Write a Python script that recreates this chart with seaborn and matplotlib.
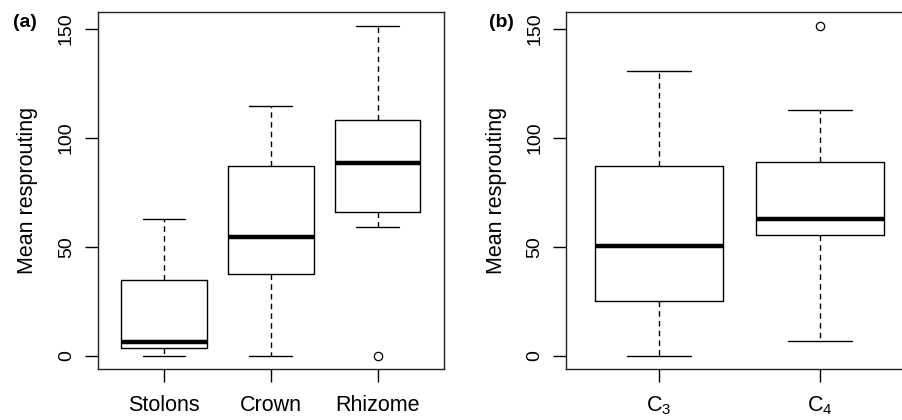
import matplotlib
matplotlib.use("Agg")
import matplotlib.pyplot as plt
import seaborn as sns

sns.set_style("ticks")
plt.rcParams['font.family'] = ['Liberation Sans', 'DejaVu Sans']
plt.rcParams['mathtext.default'] = 'regular'
plt.rcParams['text.color'] = 'black'
plt.rcParams['axes.labelcolor'] = 'black'
plt.rcParams['xtick.color'] = 'black'
plt.rcParams['ytick.color'] = 'black'

# Panel (a): resprouting organ
organ_labels = ["Stolons", "Crown", "Rhizome"]
organ_whislo = [0.0, 0.0, 59.2]
organ_q1 = [3.5, 37.5, 65.8]
organ_med = [6.5, 54.5, 88.5]
organ_q3 = [34.9, 87.1, 108.0]
organ_whishi = [62.7, 114.7, 151.5]
organ_fliers = [[], [], [0.0]]

# Panel (b): photosynthetic pathway
path_labels = [r"$C_3$", r"$C_4$"]
path_whislo = [0.0, 6.7]
path_q1 = [25.2, 55.2]
path_med = [50.6, 62.7]
path_q3 = [87.1, 88.8]
path_whishi = [130.6, 112.7]
path_fliers = [[], [151.3]]

y_ticks = [0, 50, 100, 150]
y_label = "Mean resprouting"


def make_stats(labels, lo, q1, med, q3, hi, fl):
    return [dict(label=l, whislo=a, q1=b, med=c, q3=d, whishi=e, fliers=f)
            for l, a, b, c, d, e, f in zip(labels, lo, q1, med, q3, hi, fl)]


fig = plt.figure(figsize=(9.03, 4.2), dpi=100)
axA = fig.add_axes([0.1082, 0.1214, 0.3835, 0.8493])
axB = fig.add_axes([0.6268, 0.1214, 0.3843, 0.8493])

box_kw = dict(
    widths=0.8, showfliers=True, patch_artist=False,
    boxprops=dict(color="black", linewidth=1.0),
    medianprops=dict(color="black", linewidth=3.2, solid_capstyle="butt"),
    whiskerprops=dict(color="black", linewidth=1.0, linestyle=(0, (4, 3))),
    capprops=dict(color="black", linewidth=1.0),
    flierprops=dict(marker="o", markerfacecolor="none", markeredgecolor="black",
                    markersize=6, markeredgewidth=0.9),
    capwidths=0.4,
)

panels = [
    (axA, make_stats(organ_labels, organ_whislo, organ_q1, organ_med, organ_q3, organ_whishi, organ_fliers), "(a)"),
    (axB, make_stats(path_labels, path_whislo, path_q1, path_med, path_q3, path_whishi, path_fliers), "(b)"),
]

for ax, stats, tag in panels:
    n = len(stats)
    ax.bxp(stats, positions=list(range(1, n + 1)), **box_kw)
    ext = 0.04 * n
    ax.set_xlim(0.5 - ext, n + 0.5 + ext)
    ax.set_ylim(-6.06, 157.6)
    ax.set_yticks(y_ticks)
    ax.set_yticklabels([str(v) for v in y_ticks], rotation=90, va="center", fontsize=14)
    ax.set_xticks(list(range(1, n + 1)))
    ax.set_xticklabels([s["label"] for s in stats], fontsize=15.5)
    ax.tick_params(axis="both", direction="out", length=9.5, width=1.0, color="black")
    ax.tick_params(axis="y", pad=7)
    ax.tick_params(axis="x", pad=9)
    ax.set_ylabel(y_label, fontsize=15.5, labelpad=14)
    for sp in ax.spines.values():
        sp.set_visible(True)
        sp.set_linewidth(1.0)
        sp.set_color("#222222")
    ax.set_facecolor("white")

fig.text(0.014, 0.947, "(a)", fontsize=14, fontweight="bold", ha="left", va="center")
fig.text(0.541, 0.947, "(b)", fontsize=14, fontweight="bold", ha="left", va="center")

fig.savefig("out.png", dpi=100, facecolor="white")
